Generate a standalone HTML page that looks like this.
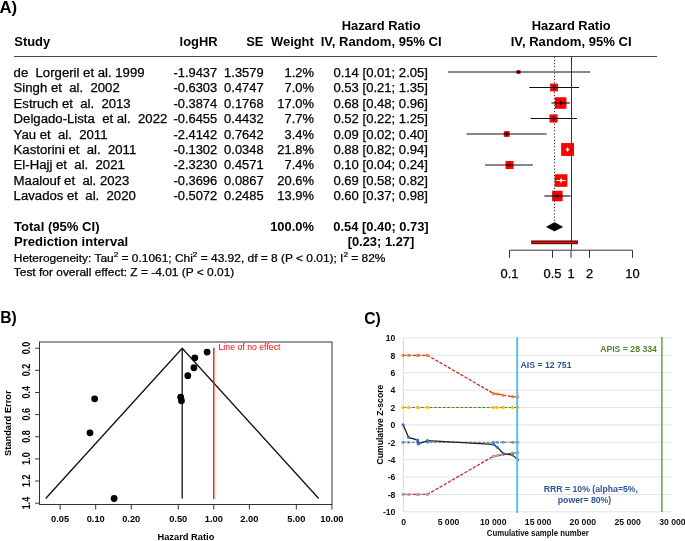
<!DOCTYPE html>
<html><head><meta charset="utf-8"><style>
html,body{margin:0;padding:0;background:#fff;}
body{width:685px;height:541px;overflow:hidden;}
svg{display:block;will-change:transform;}
.r{stroke:#000;stroke-width:0.25px;}
svg{font-family:"Liberation Sans",sans-serif;}
</style></head><body>
<svg width="685" height="541" viewBox="0 0 685 541">
<text x="-0.60" y="12.60" font-size="16.5" font-weight="bold" text-anchor="start" fill="#000" textLength="17.76" lengthAdjust="spacingAndGlyphs">A)</text>
<text x="14.30" y="46.20" font-size="12" font-weight="bold" text-anchor="start" fill="#000" textLength="35.84" lengthAdjust="spacingAndGlyphs">Study</text>
<text x="217.60" y="46.20" font-size="12" font-weight="bold" text-anchor="end" fill="#000" textLength="37.98" lengthAdjust="spacingAndGlyphs">logHR</text>
<text x="263.40" y="46.20" font-size="12" font-weight="bold" text-anchor="end" fill="#000" textLength="17.21" lengthAdjust="spacingAndGlyphs">SE</text>
<text x="313.80" y="46.20" font-size="12" font-weight="bold" text-anchor="end" fill="#000" textLength="42.76" lengthAdjust="spacingAndGlyphs">Weight</text>
<text x="381.10" y="30.30" font-size="12" font-weight="bold" text-anchor="middle" fill="#000" textLength="78.85" lengthAdjust="spacingAndGlyphs">Hazard Ratio</text>
<text x="381.10" y="46.20" font-size="12" font-weight="bold" text-anchor="middle" fill="#000" textLength="120.91" lengthAdjust="spacingAndGlyphs">IV, Random, 95% CI</text>
<text x="571.20" y="30.30" font-size="12" font-weight="bold" text-anchor="middle" fill="#000" textLength="78.85" lengthAdjust="spacingAndGlyphs">Hazard Ratio</text>
<text x="571.20" y="46.20" font-size="12" font-weight="bold" text-anchor="middle" fill="#000" textLength="120.91" lengthAdjust="spacingAndGlyphs">IV, Random, 95% CI</text>
<line x1="14.00" y1="56.50" x2="657.00" y2="56.50" stroke="#444" stroke-width="1"/>
<text x="13.60" y="76.70" font-size="12" text-anchor="start" fill="#000" textLength="131.00" lengthAdjust="spacingAndGlyphs" xml:space="preserve" class="r">de  Lorgeril et al. 1999</text>
<text x="217.20" y="76.70" font-size="12" text-anchor="end" fill="#000" textLength="43.75" lengthAdjust="spacingAndGlyphs" class="r">-1.9437</text>
<text x="263.60" y="76.70" font-size="12" text-anchor="end" fill="#000" textLength="39.46" lengthAdjust="spacingAndGlyphs" class="r">1.3579</text>
<text x="313.90" y="76.70" font-size="12" text-anchor="end" fill="#000" textLength="29.40" lengthAdjust="spacingAndGlyphs" class="r">1.2%</text>
<text x="380.70" y="76.70" font-size="12" text-anchor="middle" fill="#000" textLength="94.54" lengthAdjust="spacingAndGlyphs" class="r">0.14 [0.01; 2.05]</text>
<line x1="448.00" y1="72.00" x2="590.17" y2="72.00" stroke="#111" stroke-width="1.1"/>
<rect x="516.52" y="70.03" width="3.94" height="3.94" fill="#ff0000"/>
<line x1="516.52" y1="72.00" x2="520.46" y2="72.00" stroke="#000" stroke-width="1"/>
<ellipse cx="518.49" cy="72.00" rx="0.9" ry="1.30" fill="#000"/>
<text x="13.60" y="92.15" font-size="12" text-anchor="start" fill="#000" textLength="106.12" lengthAdjust="spacingAndGlyphs" xml:space="preserve" class="r">Singh et  al.  2002</text>
<text x="217.20" y="92.15" font-size="12" text-anchor="end" fill="#000" textLength="43.75" lengthAdjust="spacingAndGlyphs" class="r">-0.6303</text>
<text x="263.60" y="92.15" font-size="12" text-anchor="end" fill="#000" textLength="39.46" lengthAdjust="spacingAndGlyphs" class="r">0.4747</text>
<text x="313.90" y="92.15" font-size="12" text-anchor="end" fill="#000" textLength="29.40" lengthAdjust="spacingAndGlyphs" class="r">7.0%</text>
<text x="380.70" y="92.15" font-size="12" text-anchor="middle" fill="#000" textLength="94.54" lengthAdjust="spacingAndGlyphs" class="r">0.53 [0.21; 1.35]</text>
<line x1="529.32" y1="87.50" x2="579.02" y2="87.50" stroke="#111" stroke-width="1.1"/>
<rect x="550.14" y="83.59" width="7.81" height="7.81" fill="#ff0000"/>
<line x1="550.14" y1="87.50" x2="557.95" y2="87.50" stroke="#000" stroke-width="1"/>
<ellipse cx="554.04" cy="87.50" rx="0.9" ry="2.30" fill="#000"/>
<text x="13.60" y="107.60" font-size="12" text-anchor="start" fill="#000" textLength="117.08" lengthAdjust="spacingAndGlyphs" xml:space="preserve" class="r">Estruch et  al.  2013</text>
<text x="217.20" y="107.60" font-size="12" text-anchor="end" fill="#000" textLength="43.75" lengthAdjust="spacingAndGlyphs" class="r">-0.3874</text>
<text x="263.60" y="107.60" font-size="12" text-anchor="end" fill="#000" textLength="39.46" lengthAdjust="spacingAndGlyphs" class="r">0.1768</text>
<text x="313.90" y="107.60" font-size="12" text-anchor="end" fill="#000" textLength="36.58" lengthAdjust="spacingAndGlyphs" class="r">17.0%</text>
<text x="380.70" y="107.60" font-size="12" text-anchor="middle" fill="#000" textLength="94.54" lengthAdjust="spacingAndGlyphs" class="r">0.68 [0.48; 0.96]</text>
<line x1="551.40" y1="103.00" x2="569.91" y2="103.00" stroke="#111" stroke-width="1.1"/>
<rect x="554.95" y="97.25" width="11.51" height="11.51" fill="#ff0000"/>
<line x1="554.95" y1="103.00" x2="566.45" y2="103.00" stroke="#000" stroke-width="1"/>
<ellipse cx="560.70" cy="103.00" rx="0.9" ry="2.30" fill="#000"/>
<text x="13.60" y="123.05" font-size="12" text-anchor="start" fill="#000" textLength="153.68" lengthAdjust="spacingAndGlyphs" xml:space="preserve" class="r">Delgado-Lista  et al.  2022</text>
<text x="217.20" y="123.05" font-size="12" text-anchor="end" fill="#000" textLength="43.75" lengthAdjust="spacingAndGlyphs" class="r">-0.6455</text>
<text x="263.60" y="123.05" font-size="12" text-anchor="end" fill="#000" textLength="39.46" lengthAdjust="spacingAndGlyphs" class="r">0.4432</text>
<text x="313.90" y="123.05" font-size="12" text-anchor="end" fill="#000" textLength="29.40" lengthAdjust="spacingAndGlyphs" class="r">7.7%</text>
<text x="380.70" y="123.05" font-size="12" text-anchor="middle" fill="#000" textLength="94.54" lengthAdjust="spacingAndGlyphs" class="r">0.52 [0.22; 1.25]</text>
<line x1="530.56" y1="118.50" x2="576.96" y2="118.50" stroke="#111" stroke-width="1.1"/>
<rect x="549.47" y="114.43" width="8.14" height="8.14" fill="#ff0000"/>
<line x1="549.47" y1="118.50" x2="557.60" y2="118.50" stroke="#000" stroke-width="1"/>
<ellipse cx="553.53" cy="118.50" rx="0.9" ry="2.30" fill="#000"/>
<text x="13.60" y="138.50" font-size="12" text-anchor="start" fill="#000" textLength="93.92" lengthAdjust="spacingAndGlyphs" xml:space="preserve" class="r">Yau et  al.  2011</text>
<text x="217.20" y="138.50" font-size="12" text-anchor="end" fill="#000" textLength="43.75" lengthAdjust="spacingAndGlyphs" class="r">-2.4142</text>
<text x="263.60" y="138.50" font-size="12" text-anchor="end" fill="#000" textLength="39.46" lengthAdjust="spacingAndGlyphs" class="r">0.7642</text>
<text x="313.90" y="138.50" font-size="12" text-anchor="end" fill="#000" textLength="29.40" lengthAdjust="spacingAndGlyphs" class="r">3.4%</text>
<text x="380.70" y="138.50" font-size="12" text-anchor="middle" fill="#000" textLength="94.54" lengthAdjust="spacingAndGlyphs" class="r">0.09 [0.02; 0.40]</text>
<line x1="466.51" y1="134.00" x2="546.53" y2="134.00" stroke="#111" stroke-width="1.1"/>
<rect x="503.78" y="131.10" width="5.81" height="5.81" fill="#ff0000"/>
<line x1="503.78" y1="134.00" x2="509.59" y2="134.00" stroke="#000" stroke-width="1"/>
<ellipse cx="506.69" cy="134.00" rx="0.9" ry="1.92" fill="#000"/>
<text x="13.60" y="153.95" font-size="12" text-anchor="start" fill="#000" textLength="122.69" lengthAdjust="spacingAndGlyphs" xml:space="preserve" class="r">Kastorini et  al.  2011</text>
<text x="217.20" y="153.95" font-size="12" text-anchor="end" fill="#000" textLength="43.75" lengthAdjust="spacingAndGlyphs" class="r">-0.1302</text>
<text x="263.60" y="153.95" font-size="12" text-anchor="end" fill="#000" textLength="39.46" lengthAdjust="spacingAndGlyphs" class="r">0.0348</text>
<text x="313.90" y="153.95" font-size="12" text-anchor="end" fill="#000" textLength="36.58" lengthAdjust="spacingAndGlyphs" class="r">21.8%</text>
<text x="380.70" y="153.95" font-size="12" text-anchor="middle" fill="#000" textLength="94.54" lengthAdjust="spacingAndGlyphs" class="r">0.88 [0.82; 0.94]</text>
<line x1="565.70" y1="149.50" x2="569.35" y2="149.50" stroke="#111" stroke-width="1.1"/>
<rect x="561.15" y="143.06" width="12.87" height="12.87" fill="#ff0000"/>
<line x1="565.70" y1="149.50" x2="569.35" y2="149.50" stroke="#fff" stroke-width="1"/>
<ellipse cx="567.59" cy="149.50" rx="0.9" ry="2.60" fill="#fff"/>
<text x="13.60" y="169.40" font-size="12" text-anchor="start" fill="#000" textLength="111.22" lengthAdjust="spacingAndGlyphs" xml:space="preserve" class="r">El-Hajj et  al.  2021</text>
<text x="217.20" y="169.40" font-size="12" text-anchor="end" fill="#000" textLength="43.75" lengthAdjust="spacingAndGlyphs" class="r">-2.3230</text>
<text x="263.60" y="169.40" font-size="12" text-anchor="end" fill="#000" textLength="39.46" lengthAdjust="spacingAndGlyphs" class="r">0.4571</text>
<text x="313.90" y="169.40" font-size="12" text-anchor="end" fill="#000" textLength="29.40" lengthAdjust="spacingAndGlyphs" class="r">7.4%</text>
<text x="380.70" y="169.40" font-size="12" text-anchor="middle" fill="#000" textLength="94.54" lengthAdjust="spacingAndGlyphs" class="r">0.10 [0.04; 0.24]</text>
<line x1="485.03" y1="165.00" x2="532.88" y2="165.00" stroke="#111" stroke-width="1.1"/>
<rect x="505.50" y="161.00" width="8.00" height="8.00" fill="#ff0000"/>
<line x1="505.50" y1="165.00" x2="513.50" y2="165.00" stroke="#000" stroke-width="1"/>
<ellipse cx="509.50" cy="165.00" rx="0.9" ry="2.30" fill="#000"/>
<text x="13.60" y="184.85" font-size="12" text-anchor="start" fill="#000" textLength="115.63" lengthAdjust="spacingAndGlyphs" xml:space="preserve" class="r">Maalouf et  al. 2023</text>
<text x="217.20" y="184.85" font-size="12" text-anchor="end" fill="#000" textLength="43.75" lengthAdjust="spacingAndGlyphs" class="r">-0.3696</text>
<text x="263.60" y="184.85" font-size="12" text-anchor="end" fill="#000" textLength="39.46" lengthAdjust="spacingAndGlyphs" class="r">0.0867</text>
<text x="313.90" y="184.85" font-size="12" text-anchor="end" fill="#000" textLength="36.58" lengthAdjust="spacingAndGlyphs" class="r">20.6%</text>
<text x="380.70" y="184.85" font-size="12" text-anchor="middle" fill="#000" textLength="94.54" lengthAdjust="spacingAndGlyphs" class="r">0.69 [0.58; 0.82]</text>
<line x1="556.45" y1="180.50" x2="565.70" y2="180.50" stroke="#111" stroke-width="1.1"/>
<rect x="554.82" y="174.23" width="12.55" height="12.55" fill="#ff0000"/>
<line x1="556.45" y1="180.50" x2="565.70" y2="180.50" stroke="#fff" stroke-width="1"/>
<ellipse cx="561.09" cy="180.50" rx="0.9" ry="2.60" fill="#fff"/>
<text x="13.60" y="200.30" font-size="12" text-anchor="start" fill="#000" textLength="122.22" lengthAdjust="spacingAndGlyphs" xml:space="preserve" class="r">Lavados et  al.  2020</text>
<text x="217.20" y="200.30" font-size="12" text-anchor="end" fill="#000" textLength="43.75" lengthAdjust="spacingAndGlyphs" class="r">-0.5072</text>
<text x="263.60" y="200.30" font-size="12" text-anchor="end" fill="#000" textLength="39.46" lengthAdjust="spacingAndGlyphs" class="r">0.2485</text>
<text x="313.90" y="200.30" font-size="12" text-anchor="end" fill="#000" textLength="36.58" lengthAdjust="spacingAndGlyphs" class="r">13.9%</text>
<text x="380.70" y="200.30" font-size="12" text-anchor="middle" fill="#000" textLength="94.54" lengthAdjust="spacingAndGlyphs" class="r">0.60 [0.37; 0.98]</text>
<line x1="544.44" y1="196.00" x2="570.46" y2="196.00" stroke="#111" stroke-width="1.1"/>
<rect x="552.10" y="190.74" width="10.52" height="10.52" fill="#ff0000"/>
<line x1="552.10" y1="196.00" x2="562.62" y2="196.00" stroke="#000" stroke-width="1"/>
<ellipse cx="557.36" cy="196.00" rx="0.9" ry="2.30" fill="#000"/>
<text x="14.00" y="231.30" font-size="12" font-weight="bold" text-anchor="start" fill="#000" textLength="85.51" lengthAdjust="spacingAndGlyphs">Total (95% CI)</text>
<text x="313.90" y="231.30" font-size="12" font-weight="bold" text-anchor="end" fill="#000" textLength="43.75" lengthAdjust="spacingAndGlyphs">100.0%</text>
<text x="381.00" y="231.30" font-size="12" font-weight="bold" text-anchor="middle" fill="#000" textLength="95.38" lengthAdjust="spacingAndGlyphs">0.54 [0.40; 0.73]</text>
<text x="14.00" y="246.40" font-size="12" font-weight="bold" text-anchor="start" fill="#000" textLength="114.12" lengthAdjust="spacingAndGlyphs">Prediction interval</text>
<text x="381.00" y="246.40" font-size="12" font-weight="bold" text-anchor="middle" fill="#000" textLength="66.69" lengthAdjust="spacingAndGlyphs">[0.23; 1.27]</text>
<text class="r" x="13.8" y="262.1" font-size="11" fill="#000" transform="translate(13.8,0) scale(1.085,1) translate(-13.8,0)">Heterogeneity: Tau<tspan dy="-4.6" font-size="7.6">2</tspan><tspan dy="4.6"> = 0.1061; Chi</tspan><tspan dy="-4.6" font-size="7.6">2</tspan><tspan dy="4.6"> = 43.92, df = 8 (P &lt; 0.01); I</tspan><tspan dy="-4.6" font-size="7.6">2</tspan><tspan dy="4.6"> = 82%</tspan></text>
<text x="13.80" y="276.10" font-size="11" text-anchor="start" fill="#000" textLength="220.47" lengthAdjust="spacingAndGlyphs" class="r">Test for overall effect: Z = -4.01 (P &lt; 0.01)</text>
<line x1="571.50" y1="56.50" x2="571.50" y2="249.70" stroke="#333" stroke-width="1"/>
<line x1="554.54" y1="56.50" x2="554.54" y2="222.50" stroke="#333" stroke-width="1" stroke-dasharray="1.3,1.9"/>
<polygon points="546.53,226.9 554.54,222.5 562.59,226.9 554.54,231.0" fill="#000" stroke="#000" stroke-width="0.6" stroke-linejoin="miter"/>
<rect x="531.75" y="240.95" width="45.64" height="2.8" fill="#f00000" stroke="#300" stroke-width="0.9"/>
<line x1="509.50" y1="250.20" x2="632.50" y2="250.20" stroke="#333" stroke-width="1"/>
<line x1="509.50" y1="250.20" x2="509.50" y2="257.80" stroke="#333" stroke-width="1"/>
<text x="509.50" y="278.00" font-size="12" text-anchor="middle" fill="#000" textLength="17.93" lengthAdjust="spacingAndGlyphs" class="r">0.1</text>
<line x1="552.49" y1="250.20" x2="552.49" y2="257.80" stroke="#333" stroke-width="1"/>
<text x="552.49" y="278.00" font-size="12" text-anchor="middle" fill="#000" textLength="17.93" lengthAdjust="spacingAndGlyphs" class="r">0.5</text>
<line x1="571.00" y1="250.20" x2="571.00" y2="257.80" stroke="#333" stroke-width="1"/>
<text x="571.00" y="278.00" font-size="12" text-anchor="middle" fill="#000" textLength="7.17" lengthAdjust="spacingAndGlyphs" class="r">1</text>
<line x1="589.51" y1="250.20" x2="589.51" y2="257.80" stroke="#333" stroke-width="1"/>
<text x="589.51" y="278.00" font-size="12" text-anchor="middle" fill="#000" textLength="7.17" lengthAdjust="spacingAndGlyphs" class="r">2</text>
<line x1="632.50" y1="250.20" x2="632.50" y2="257.80" stroke="#333" stroke-width="1"/>
<text x="632.50" y="278.00" font-size="12" text-anchor="middle" fill="#000" textLength="14.35" lengthAdjust="spacingAndGlyphs" class="r">10</text>
<text x="0.30" y="323.40" font-size="16.8" font-weight="bold" text-anchor="start" fill="#000" textLength="16.49" lengthAdjust="spacingAndGlyphs">B)</text>
<rect x="39.50" y="342.00" width="292.50" height="162.50" fill="none" stroke="#333" stroke-width="1"/>
<line x1="35.10" y1="348.20" x2="39.50" y2="348.20" stroke="#333" stroke-width="1"/>
<text transform="translate(30.0,347.90) scale(1.16,1) rotate(-90)" font-size="9.0" font-weight="bold" text-anchor="middle" fill="#000">0.0</text>
<line x1="35.10" y1="370.34" x2="39.50" y2="370.34" stroke="#333" stroke-width="1"/>
<text transform="translate(30.0,370.04) scale(1.16,1) rotate(-90)" font-size="9.0" font-weight="bold" text-anchor="middle" fill="#000">0.2</text>
<line x1="35.10" y1="392.48" x2="39.50" y2="392.48" stroke="#333" stroke-width="1"/>
<text transform="translate(30.0,392.18) scale(1.16,1) rotate(-90)" font-size="9.0" font-weight="bold" text-anchor="middle" fill="#000">0.4</text>
<line x1="35.10" y1="414.62" x2="39.50" y2="414.62" stroke="#333" stroke-width="1"/>
<text transform="translate(30.0,414.32) scale(1.16,1) rotate(-90)" font-size="9.0" font-weight="bold" text-anchor="middle" fill="#000">0.6</text>
<line x1="35.10" y1="436.76" x2="39.50" y2="436.76" stroke="#333" stroke-width="1"/>
<text transform="translate(30.0,436.46) scale(1.16,1) rotate(-90)" font-size="9.0" font-weight="bold" text-anchor="middle" fill="#000">0.8</text>
<line x1="35.10" y1="458.90" x2="39.50" y2="458.90" stroke="#333" stroke-width="1"/>
<text transform="translate(30.0,458.60) scale(1.16,1) rotate(-90)" font-size="9.0" font-weight="bold" text-anchor="middle" fill="#000">1.0</text>
<line x1="35.10" y1="481.04" x2="39.50" y2="481.04" stroke="#333" stroke-width="1"/>
<text transform="translate(30.0,480.74) scale(1.16,1) rotate(-90)" font-size="9.0" font-weight="bold" text-anchor="middle" fill="#000">1.2</text>
<line x1="35.10" y1="503.18" x2="39.50" y2="503.18" stroke="#333" stroke-width="1"/>
<text transform="translate(30.0,502.88) scale(1.16,1) rotate(-90)" font-size="9.0" font-weight="bold" text-anchor="middle" fill="#000">1.4</text>
<line x1="60.15" y1="504.50" x2="60.15" y2="509.50" stroke="#333" stroke-width="1"/>
<text x="60.15" y="521.80" font-size="9.3" font-weight="bold" text-anchor="middle" fill="#000">0.05</text>
<line x1="95.70" y1="504.50" x2="95.70" y2="509.50" stroke="#333" stroke-width="1"/>
<text x="95.70" y="521.80" font-size="9.3" font-weight="bold" text-anchor="middle" fill="#000">0.10</text>
<line x1="131.25" y1="504.50" x2="131.25" y2="509.50" stroke="#333" stroke-width="1"/>
<text x="131.25" y="521.80" font-size="9.3" font-weight="bold" text-anchor="middle" fill="#000">0.20</text>
<line x1="178.25" y1="504.50" x2="178.25" y2="509.50" stroke="#333" stroke-width="1"/>
<text x="178.25" y="521.80" font-size="9.3" font-weight="bold" text-anchor="middle" fill="#000">0.50</text>
<line x1="213.80" y1="504.50" x2="213.80" y2="509.50" stroke="#333" stroke-width="1"/>
<text x="213.80" y="521.80" font-size="9.3" font-weight="bold" text-anchor="middle" fill="#000">1.00</text>
<line x1="249.35" y1="504.50" x2="249.35" y2="509.50" stroke="#333" stroke-width="1"/>
<text x="249.35" y="521.80" font-size="9.3" font-weight="bold" text-anchor="middle" fill="#000">2.00</text>
<line x1="296.35" y1="504.50" x2="296.35" y2="509.50" stroke="#333" stroke-width="1"/>
<text x="296.35" y="521.80" font-size="9.3" font-weight="bold" text-anchor="middle" fill="#000">5.00</text>
<line x1="331.90" y1="504.50" x2="331.90" y2="509.50" stroke="#333" stroke-width="1"/>
<text x="331.90" y="521.80" font-size="9.3" font-weight="bold" text-anchor="middle" fill="#000">10.00</text>
<text x="185.90" y="540.10" font-size="9.3" font-weight="bold" text-anchor="middle" fill="#000">Hazard Ratio</text>
<text transform="translate(11.4,423.2) rotate(-90)" font-size="9.3" font-weight="bold" text-anchor="middle" fill="#000">Standard Error</text>
<polyline points="45.69,498.52 182.20,348.20 318.70,498.52" fill="none" stroke="#111" stroke-width="1.3"/>
<line x1="182.20" y1="348.20" x2="182.20" y2="498.52" stroke="#111" stroke-width="1.3"/>
<line x1="213.80" y1="347.70" x2="213.80" y2="499.02" stroke="#ff0000" stroke-width="1.3"/>
<text x="218.50" y="350.20" font-size="8.6" text-anchor="start" fill="#ff0000" textLength="61.96" lengthAdjust="spacingAndGlyphs">Line of no effect</text>
<circle cx="114.11" cy="498.52" r="3.40" fill="#000"/>
<circle cx="181.47" cy="400.75" r="3.40" fill="#000"/>
<circle cx="193.93" cy="367.77" r="3.40" fill="#000"/>
<circle cx="180.69" cy="397.26" r="3.40" fill="#000"/>
<circle cx="89.98" cy="432.80" r="3.40" fill="#000"/>
<circle cx="207.12" cy="352.05" r="3.40" fill="#000"/>
<circle cx="94.65" cy="398.80" r="3.40" fill="#000"/>
<circle cx="194.84" cy="357.80" r="3.40" fill="#000"/>
<circle cx="187.79" cy="375.71" r="3.40" fill="#000"/>
<text x="364.20" y="323.60" font-size="16.8" font-weight="bold" text-anchor="start" fill="#000" textLength="16.49" lengthAdjust="spacingAndGlyphs">C)</text>
<line x1="403.30" y1="511.80" x2="672.20" y2="511.80" stroke="#e3e3e3" stroke-width="1"/>
<text x="395.40" y="515.10" font-size="9.1" font-weight="bold" text-anchor="end" fill="#111" textLength="12.50" lengthAdjust="spacingAndGlyphs">-10</text>
<line x1="403.30" y1="494.41" x2="672.20" y2="494.41" stroke="#e3e3e3" stroke-width="1"/>
<text x="395.40" y="497.71" font-size="9.1" font-weight="bold" text-anchor="end" fill="#111" textLength="7.69" lengthAdjust="spacingAndGlyphs">-8</text>
<line x1="403.30" y1="477.02" x2="672.20" y2="477.02" stroke="#e3e3e3" stroke-width="1"/>
<text x="395.40" y="480.32" font-size="9.1" font-weight="bold" text-anchor="end" fill="#111" textLength="7.69" lengthAdjust="spacingAndGlyphs">-6</text>
<line x1="403.30" y1="459.63" x2="672.20" y2="459.63" stroke="#e3e3e3" stroke-width="1"/>
<text x="395.40" y="462.93" font-size="9.1" font-weight="bold" text-anchor="end" fill="#111" textLength="7.69" lengthAdjust="spacingAndGlyphs">-4</text>
<line x1="403.30" y1="442.24" x2="672.20" y2="442.24" stroke="#e3e3e3" stroke-width="1"/>
<text x="395.40" y="445.54" font-size="9.1" font-weight="bold" text-anchor="end" fill="#111" textLength="7.69" lengthAdjust="spacingAndGlyphs">-2</text>
<line x1="403.30" y1="424.85" x2="672.20" y2="424.85" stroke="#e3e3e3" stroke-width="1"/>
<text x="395.40" y="428.15" font-size="9.1" font-weight="bold" text-anchor="end" fill="#111" textLength="4.81" lengthAdjust="spacingAndGlyphs">0</text>
<line x1="403.30" y1="407.46" x2="672.20" y2="407.46" stroke="#e3e3e3" stroke-width="1"/>
<text x="395.40" y="410.76" font-size="9.1" font-weight="bold" text-anchor="end" fill="#111" textLength="4.81" lengthAdjust="spacingAndGlyphs">2</text>
<line x1="403.30" y1="390.07" x2="672.20" y2="390.07" stroke="#e3e3e3" stroke-width="1"/>
<text x="395.40" y="393.37" font-size="9.1" font-weight="bold" text-anchor="end" fill="#111" textLength="4.81" lengthAdjust="spacingAndGlyphs">4</text>
<line x1="403.30" y1="372.68" x2="672.20" y2="372.68" stroke="#e3e3e3" stroke-width="1"/>
<text x="395.40" y="375.98" font-size="9.1" font-weight="bold" text-anchor="end" fill="#111" textLength="4.81" lengthAdjust="spacingAndGlyphs">6</text>
<line x1="403.30" y1="355.29" x2="672.20" y2="355.29" stroke="#e3e3e3" stroke-width="1"/>
<text x="395.40" y="358.59" font-size="9.1" font-weight="bold" text-anchor="end" fill="#111" textLength="4.81" lengthAdjust="spacingAndGlyphs">8</text>
<line x1="403.30" y1="337.90" x2="672.20" y2="337.90" stroke="#e3e3e3" stroke-width="1"/>
<text x="395.40" y="341.20" font-size="9.1" font-weight="bold" text-anchor="end" fill="#111" textLength="9.62" lengthAdjust="spacingAndGlyphs">10</text>
<line x1="403.30" y1="337.90" x2="403.30" y2="511.80" stroke="#d9d9d9" stroke-width="1"/>
<text x="403.70" y="525.00" font-size="9.1" font-weight="bold" text-anchor="middle" fill="#111" textLength="4.81" lengthAdjust="spacingAndGlyphs">0</text>
<text x="448.48" y="525.00" font-size="9.1" font-weight="bold" text-anchor="middle" fill="#111" textLength="21.63" lengthAdjust="spacingAndGlyphs">5 000</text>
<text x="493.27" y="525.00" font-size="9.1" font-weight="bold" text-anchor="middle" fill="#111" textLength="26.44" lengthAdjust="spacingAndGlyphs">10 000</text>
<text x="538.05" y="525.00" font-size="9.1" font-weight="bold" text-anchor="middle" fill="#111" textLength="26.44" lengthAdjust="spacingAndGlyphs">15 000</text>
<text x="582.83" y="525.00" font-size="9.1" font-weight="bold" text-anchor="middle" fill="#111" textLength="26.44" lengthAdjust="spacingAndGlyphs">20 000</text>
<text x="627.62" y="525.00" font-size="9.1" font-weight="bold" text-anchor="middle" fill="#111" textLength="26.44" lengthAdjust="spacingAndGlyphs">25 000</text>
<text x="672.40" y="525.00" font-size="9.1" font-weight="bold" text-anchor="middle" fill="#111" textLength="26.44" lengthAdjust="spacingAndGlyphs">30 000</text>
<text x="537.80" y="535.50" font-size="8.4" font-weight="bold" text-anchor="middle" fill="#111" textLength="102.02" lengthAdjust="spacingAndGlyphs">Cumulative sample number</text>
<text transform="translate(382.7,424.6) scale(0.95,1) rotate(-90)" font-size="8.6" font-weight="bold" text-anchor="middle" fill="#000">Cumulative Z-score</text>
<polyline points="403.10,407.46 408.60,407.46 417.60,407.46 418.40,407.46 427.40,407.46 493.60,407.46 497.40,407.46 503.30,407.46 512.60,407.46 517.60,407.46" fill="none" stroke="#548235" stroke-width="1.1" stroke-dasharray="3,1.4"/>
<polyline points="403.10,442.24 408.60,442.24 417.60,442.24 418.40,442.24 427.40,442.24 493.60,442.24 497.40,442.24 503.30,442.24 512.60,442.24 517.60,442.24" fill="none" stroke="#548235" stroke-width="1.1" stroke-dasharray="3,1.4"/>
<polyline points="403.10,355.29 408.60,355.29 417.60,355.29 418.40,355.29 427.40,355.29 493.60,393.55 497.40,393.98 503.30,395.29 512.60,396.59 517.60,397.03" fill="none" stroke="#d0242b" stroke-width="1.3" stroke-dasharray="3.3,1.5"/>
<polyline points="403.10,494.41 408.60,494.41 417.60,494.41 418.40,494.41 427.40,494.41 493.60,456.15 497.40,455.72 503.30,454.41 512.60,453.11 517.60,452.67" fill="none" stroke="#d0242b" stroke-width="1.3" stroke-dasharray="3.3,1.5"/>
<circle cx="403.10" cy="407.46" r="1.60" fill="#ffc000"/>
<circle cx="408.60" cy="407.46" r="1.60" fill="#ffc000"/>
<circle cx="417.60" cy="407.46" r="1.60" fill="#ffc000"/>
<circle cx="418.40" cy="407.46" r="1.60" fill="#ffc000"/>
<circle cx="427.40" cy="407.46" r="1.60" fill="#ffc000"/>
<circle cx="493.60" cy="407.46" r="1.60" fill="#ffc000"/>
<circle cx="497.40" cy="407.46" r="1.60" fill="#ffc000"/>
<circle cx="503.30" cy="407.46" r="1.60" fill="#ffc000"/>
<circle cx="512.60" cy="407.46" r="1.60" fill="#ffc000"/>
<circle cx="517.60" cy="407.46" r="1.60" fill="#ffc000"/>
<circle cx="403.10" cy="442.24" r="1.60" fill="#5b9bd5"/>
<circle cx="408.60" cy="442.24" r="1.60" fill="#5b9bd5"/>
<circle cx="417.60" cy="442.24" r="1.60" fill="#5b9bd5"/>
<circle cx="418.40" cy="442.24" r="1.60" fill="#5b9bd5"/>
<circle cx="427.40" cy="442.24" r="1.60" fill="#5b9bd5"/>
<circle cx="493.60" cy="442.24" r="1.60" fill="#5b9bd5"/>
<circle cx="497.40" cy="442.24" r="1.60" fill="#5b9bd5"/>
<circle cx="503.30" cy="442.24" r="1.60" fill="#5b9bd5"/>
<circle cx="512.60" cy="442.24" r="1.60" fill="#5b9bd5"/>
<circle cx="517.60" cy="442.24" r="1.60" fill="#5b9bd5"/>
<circle cx="403.10" cy="355.29" r="1.60" fill="#ed7d31"/>
<circle cx="408.60" cy="355.29" r="1.60" fill="#ed7d31"/>
<circle cx="417.60" cy="355.29" r="1.60" fill="#ed7d31"/>
<circle cx="418.40" cy="355.29" r="1.60" fill="#ed7d31"/>
<circle cx="427.40" cy="355.29" r="1.60" fill="#ed7d31"/>
<circle cx="493.60" cy="393.55" r="1.60" fill="#ed7d31"/>
<circle cx="497.40" cy="393.98" r="1.60" fill="#ed7d31"/>
<circle cx="503.30" cy="395.29" r="1.60" fill="#ed7d31"/>
<circle cx="512.60" cy="396.59" r="1.60" fill="#ed7d31"/>
<circle cx="517.60" cy="397.03" r="1.60" fill="#ed7d31"/>
<circle cx="403.10" cy="494.41" r="1.60" fill="#a5a5a5"/>
<circle cx="408.60" cy="494.41" r="1.60" fill="#a5a5a5"/>
<circle cx="417.60" cy="494.41" r="1.60" fill="#a5a5a5"/>
<circle cx="418.40" cy="494.41" r="1.60" fill="#a5a5a5"/>
<circle cx="427.40" cy="494.41" r="1.60" fill="#a5a5a5"/>
<circle cx="493.60" cy="456.15" r="1.60" fill="#a5a5a5"/>
<circle cx="497.40" cy="455.72" r="1.60" fill="#a5a5a5"/>
<circle cx="503.30" cy="454.41" r="1.60" fill="#a5a5a5"/>
<circle cx="512.60" cy="453.11" r="1.60" fill="#a5a5a5"/>
<circle cx="517.60" cy="452.67" r="1.60" fill="#a5a5a5"/>
<polyline points="403.10,424.85 408.60,437.37 417.60,440.07 418.40,443.98 427.40,440.67 493.60,444.41 497.40,447.28 503.30,453.54 512.60,455.02 517.60,459.63" fill="none" stroke="#222" stroke-width="1.3"/>
<circle cx="403.10" cy="424.85" r="1.60" fill="#4472c4"/>
<circle cx="408.60" cy="437.37" r="1.60" fill="#4472c4"/>
<circle cx="417.60" cy="440.07" r="1.60" fill="#4472c4"/>
<circle cx="418.40" cy="443.98" r="1.60" fill="#4472c4"/>
<circle cx="427.40" cy="440.67" r="1.60" fill="#4472c4"/>
<circle cx="493.60" cy="444.41" r="1.60" fill="#4472c4"/>
<circle cx="497.40" cy="447.28" r="1.60" fill="#4472c4"/>
<circle cx="503.30" cy="453.54" r="1.60" fill="#4472c4"/>
<circle cx="512.60" cy="455.02" r="1.60" fill="#4472c4"/>
<circle cx="517.60" cy="459.63" r="1.60" fill="#4472c4"/>
<line x1="517.20" y1="337.40" x2="517.20" y2="512.90" stroke="#56bfe9" stroke-width="2"/>
<line x1="661.90" y1="337.00" x2="661.90" y2="511.90" stroke="#6fa94c" stroke-width="1.6"/>
<text x="520.50" y="368.10" font-size="9.1" font-weight="bold" text-anchor="start" fill="#2f5597" textLength="50.97" lengthAdjust="spacingAndGlyphs">AIS = 12 751</text>
<text x="656.90" y="352.10" font-size="9.1" font-weight="bold" text-anchor="end" fill="#548235" textLength="56.77" lengthAdjust="spacingAndGlyphs">APIS = 28 334</text>
<text x="590.90" y="492.10" font-size="9.1" font-weight="bold" text-anchor="middle" fill="#2f5597" textLength="94.18" lengthAdjust="spacingAndGlyphs">RRR = 10% (alpha=5%,</text>
<text x="584.50" y="502.50" font-size="9.1" font-weight="bold" text-anchor="middle" fill="#2f5597" textLength="53.37" lengthAdjust="spacingAndGlyphs">power= 80%)</text>
</svg>
</body></html>
